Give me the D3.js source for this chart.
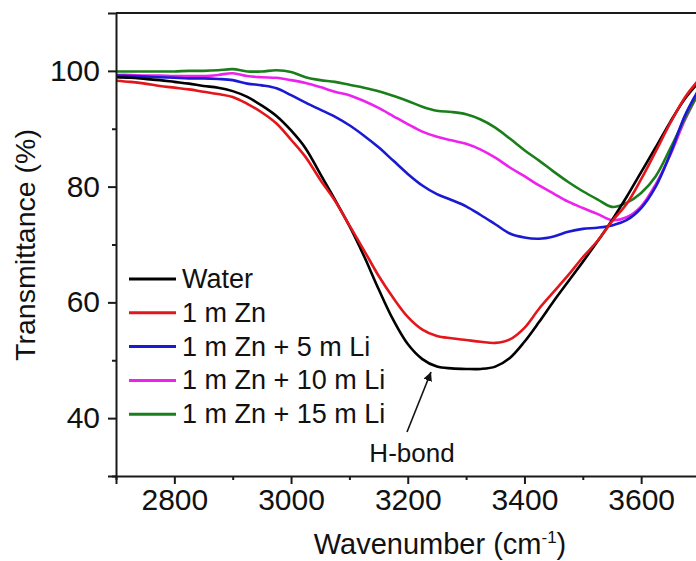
<!DOCTYPE html>
<html>
<head>
<meta charset="utf-8">
<script src="https://cdn.jsdelivr.net/npm/d3@7"></script>
<style>
  html, body { margin: 0; padding: 0; background: #fff; }
  svg { display: block; font-family: "Liberation Sans", Arial, Helvetica, sans-serif; }
</style>
</head>
<body>
<svg id="chart" width="696" height="561"></svg>
<script>
// ---- data ----
const wavenumbers = d3.range(2700, 3701, 25);
const water = [98.9, 98.8, 98.6, 98.4, 98.1, 97.8, 97.4, 97.1, 96.5,
  95.5, 94.0, 92.2, 89.7, 86.6, 82.2, 77.8, 73.2,
  68.0, 62.3, 57.0, 52.8, 50.2, 48.9, 48.6, 48.5,
  48.5, 48.9, 50.4, 53.2, 56.6, 60.2, 63.6, 67.0,
  70.5, 74.2, 78.2, 82.5, 86.8, 91.2, 95.2, 98.2];
const zn1 = [98.3, 98.1, 97.8, 97.4, 97.1, 96.8, 96.4, 96.0, 95.5,
  94.3, 92.8, 90.9, 88.1, 85.1, 81.2, 77.6, 73.3,
  69.0, 64.6, 60.8, 57.5, 55.3, 54.2, 53.8, 53.5,
  53.2, 53.0, 53.6, 55.6, 58.9, 61.8, 64.7, 67.8,
  70.6, 74.0, 77.0, 81.3, 86.1, 91.0, 95.4, 98.6];
const zn1li5 = [99.2, 99.1, 99.0, 98.9, 98.8, 98.7, 98.7, 98.6, 98.4,
  97.8, 97.5, 97.0, 95.8, 94.5, 93.3, 92.1, 90.6,
  88.8, 86.8, 84.5, 82.2, 80.2, 78.7, 77.7, 76.6,
  75.1, 73.5, 71.9, 71.2, 71.0, 71.4, 72.2, 72.7,
  72.9, 73.3, 74.2, 76.3, 80.0, 85.7, 92.3, 97.0];
const zn1li10 = [99.3, 99.3, 99.2, 99.2, 99.1, 99.1, 99.1, 99.3, 99.6,
  99.1, 98.9, 98.8, 98.4, 97.9, 97.2, 96.4, 95.8,
  94.8, 93.6, 92.2, 90.8, 89.5, 88.6, 88.0, 87.4,
  86.4, 85.0, 83.3, 81.8, 80.2, 78.8, 77.4, 76.3,
  75.3, 74.2, 74.7, 76.6, 80.4, 85.5, 91.5, 96.5];
const zn1li15 = [99.9, 99.9, 99.9, 99.9, 99.9, 100.0, 100.0, 100.1, 100.3,
  99.9, 99.9, 100.1, 99.8, 98.9, 98.4, 98.1, 97.6,
  97.1, 96.5, 95.7, 94.8, 93.8, 93.1, 92.9, 92.5,
  91.6, 90.2, 88.3, 86.3, 84.5, 82.6, 80.8, 79.2,
  77.8, 76.5, 77.2, 78.9, 81.8, 86.6, 91.8, 96.5];
const seriesNames = ["Water", "1 m Zn", "1 m Zn + 5 m Li", "1 m Zn + 10 m Li", "1 m Zn + 15 m Li"];
const seriesColors = ["#000000", "#e3161b", "#1a1ad2", "#ee22ee", "#1a7f1a"];
const seriesValues = [water, zn1, zn1li5, zn1li10, zn1li15];
const drawOrder = [3, 4, 2, 0, 1];
const xMajorTicks = [2800, 3000, 3200, 3400, 3600];
const xMinorTicks = [2700, 2900, 3100, 3300, 3500, 3700];
const yMajorTicks = [40, 60, 80, 100];
const yMinorTicks = [30, 50, 70, 90];
const annotationText = "H-bond";

// ---- layout ----
const svg = d3.select("#chart");
const plotLeft = 116, plotRight = 699.5, plotTop = 13, plotBottom = 476;
const x = d3.scaleLinear().domain([2700, 3700]).range([plotLeft, plotRight]);
const y = d3.scaleLinear().domain([30, 110]).range([plotBottom, plotTop]);
const axisColor = "#1a1a1a";

// curves
const line = d3.line()
  .x(d => x(d[0]))
  .y(d => y(d[1]))
  .curve(d3.curveCatmullRom.alpha(0.5));

const gLines = svg.append("g");
drawOrder.forEach(i => {
  const pts = wavenumbers.map((w, j) => [w, seriesValues[i][j]]);
  gLines.append("path")
    .attr("d", line(pts))
    .attr("fill", "none")
    .attr("stroke", seriesColors[i])
    .attr("stroke-width", 2.6)
    .attr("stroke-linejoin", "round");
});

// frame (top and right)
svg.append("line").attr("x1", plotLeft).attr("x2", plotRight).attr("y1", plotTop).attr("y2", plotTop)
  .attr("stroke", axisColor).attr("stroke-width", 2);
svg.append("line").attr("x1", plotRight).attr("x2", plotRight).attr("y1", plotTop).attr("y2", plotBottom)
  .attr("stroke", axisColor).attr("stroke-width", 2);

// x axis
svg.append("g").attr("transform", `translate(0,${plotBottom})`)
  .call(d3.axisBottom(x).tickValues(xMajorTicks).tickSize(8).tickPadding(5).tickFormat(d3.format("d")));
svg.append("g").attr("transform", `translate(0,${plotBottom})`)
  .call(d3.axisBottom(x).tickValues(xMinorTicks).tickSize(4).tickFormat(""))
  .call(g => g.select(".domain").remove());

// y axis
svg.append("g").attr("transform", `translate(${plotLeft},0)`)
  .call(d3.axisLeft(y).tickValues(yMajorTicks).tickSize(8).tickPadding(8).tickFormat(d3.format("d")));
svg.append("g").attr("transform", `translate(${plotLeft},0)`)
  .call(d3.axisLeft(y).tickValues(yMinorTicks).tickSize(4).tickFormat(""))
  .call(g => g.select(".domain").remove());

svg.selectAll(".domain").attr("stroke", axisColor).attr("stroke-width", 2);
svg.selectAll(".tick line").attr("stroke", axisColor).attr("stroke-width", 2);
svg.selectAll(".tick text")
  .attr("font-family", '"Liberation Sans", Arial, sans-serif')
  .attr("font-size", 30).attr("fill", "#111");

// axis titles
svg.append("text")
  .attr("transform", "translate(35,245) rotate(-90)")
  .attr("text-anchor", "middle")
  .attr("font-size", 28.5).attr("fill", "#111")
  .text("Transmittance (%)");

const xt = svg.append("text")
  .attr("x", 440).attr("y", 554)
  .attr("text-anchor", "middle")
  .attr("font-size", 29).attr("fill", "#111");
xt.append("tspan").text("Wavenumber (cm");
xt.append("tspan").attr("font-size", 17).attr("dy", -11).text("-1");
xt.append("tspan").attr("dy", 11).text(")");

// legend
const legend = svg.append("g");
seriesNames.forEach((name, i) => {
  const ly = 279 + i * 33.8;
  legend.append("line")
    .attr("x1", 129).attr("x2", 176).attr("y1", ly).attr("y2", ly)
    .attr("stroke", seriesColors[i]).attr("stroke-width", 3);
  legend.append("text")
    .attr("x", 182).attr("y", ly + 9)
    .attr("font-size", 27).attr("fill", "#111")
    .text(name);
});

// annotation with arrow
svg.append("defs").append("marker")
  .attr("id", "arrowhead")
  .attr("viewBox", "0 0 10 10")
  .attr("refX", 10).attr("refY", 5)
  .attr("markerWidth", 9).attr("markerHeight", 9)
  .attr("markerUnits", "userSpaceOnUse")
  .attr("orient", "auto")
  .append("path").attr("d", "M0,0 L10,5 L0,10 z").attr("fill", "#111");
svg.append("line")
  .attr("x1", 407).attr("y1", 432)
  .attr("x2", 431).attr("y2", 372)
  .attr("stroke", "#111").attr("stroke-width", 1.6)
  .attr("marker-end", "url(#arrowhead)");
svg.append("text")
  .attr("x", 412).attr("y", 462)
  .attr("text-anchor", "middle")
  .attr("font-size", 26).attr("fill", "#111")
  .text(annotationText);
</script>
</body>
</html>
